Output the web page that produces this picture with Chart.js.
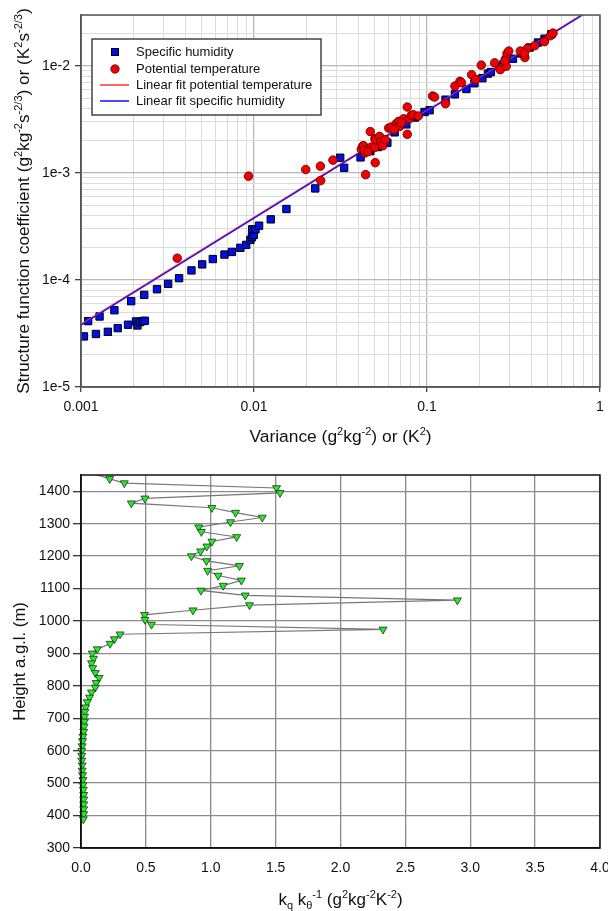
<!DOCTYPE html>
<html>
<head>
<meta charset="utf-8">
<script src="https://cdn.jsdelivr.net/npm/chart.js@4.4.1/dist/chart.umd.min.js"></script>
<style>
html, body { margin: 0; padding: 0; background: #fff; overflow: hidden; }
#topChart { position: absolute; left: 0; top: 0; }
#bottomChart { position: absolute; left: 0; top: 460px; }
</style>
</head>
<body>
<canvas id="topChart" width="608" height="455"></canvas>
<canvas id="bottomChart" width="608" height="451"></canvas>
<script>
// ---- top panel: structure function coefficient vs variance ----
const shVariance = [0.00104, 0.00122, 0.00143, 0.00163, 0.00187, 0.00208, 0.00212, 0.00219, 0.00227, 0.00234,
  0.0011, 0.00128, 0.00156, 0.00195, 0.00232, 0.00275, 0.00319, 0.00369, 0.00435, 0.00502, 0.00578, 0.00675,
  0.00745, 0.00834, 0.00901, 0.00953, 0.00973, 0.00998, 0.00977, 0.0102, 0.0107, 0.0125, 0.0154, 0.0226,
  0.0315, 0.0332, 0.0413, 0.047, 0.052, 0.059, 0.065, 0.0759, 0.085, 0.0968, 0.1035, 0.128, 0.145, 0.169,
  0.188, 0.209, 0.225, 0.234, 0.263, 0.277, 0.314, 0.351, 0.392, 0.438, 0.478, 0.523];
const shCoef = [2.97e-5, 3.13e-5, 3.28e-5, 3.55e-5, 3.82e-5, 4.10e-5, 3.76e-5, 4.04e-5, 4.13e-5, 4.16e-5,
  4.13e-5, 4.56e-5, 5.22e-5, 6.34e-5, 7.26e-5, 8.2e-5, 9.2e-5, 1.04e-4, 1.23e-4, 1.40e-4, 1.57e-4, 1.73e-4,
  1.83e-4, 2.0e-4, 2.13e-4, 2.37e-4, 2.51e-4, 2.64e-4, 2.98e-4, 2.98e-4, 3.22e-4, 3.69e-4, 4.61e-4, 7.18e-4,
  1.39e-3, 1.12e-3, 1.40e-3, 1.6e-3, 1.75e-3, 1.92e-3, 2.4e-3, 2.85e-3, 3.3e-3, 3.72e-3, 3.86e-3, 4.85e-3, 5.44e-3, 6.1e-3,
  6.9e-3, 7.7e-3, 8.5e-3, 8.79e-3, 9.9e-3, 1.04e-2, 1.17e-2, 1.31e-2, 1.49e-2, 1.66e-2, 1.80e-2, 1.98e-2];

const ptVariance = [0.0036, 0.0093, 0.0199, 0.0242, 0.0243, 0.0286, 0.0442, 0.0502, 0.0417, 0.0426, 0.043,
  0.0437, 0.0435, 0.0466, 0.047, 0.0476, 0.0498, 0.05, 0.0505, 0.0532, 0.0542, 0.0556, 0.06, 0.0622, 0.0665,
  0.0686, 0.0695, 0.0733, 0.0769, 0.0769, 0.0794, 0.0811, 0.0834, 0.0891, 0.1077, 0.1106, 0.128, 0.145, 0.155,
  0.181, 0.191, 0.206, 0.246, 0.265, 0.287, 0.285, 0.29, 0.297, 0.346, 0.368, 0.38, 0.365, 0.477, 0.517, 0.535,
  0.0455, 0.0575, 0.0645, 0.071, 0.158, 0.282, 0.42];
const ptCoef = [1.6e-4, 9.35e-4, 1.08e-3, 1.16e-3, 8.5e-4, 1.32e-3, 9.66e-4, 1.25e-3, 1.67e-3, 1.79e-3, 1.80e-3,
  1.54e-3, 1.63e-3, 1.69e-3, 2.44e-3, 1.75e-3, 1.73e-3, 2.09e-3, 2.05e-3, 2.2e-3, 1.95e-3, 1.80e-3, 2.63e-3, 2.69e-3, 2.9e-3,
  3.04e-3, 2.73e-3, 3.22e-3, 4.14e-3, 2.30e-3, 3.22e-3, 3.46e-3, 3.51e-3, 3.41e-3, 5.25e-3, 5.13e-3, 4.45e-3, 6.5e-3, 7.19e-3,
  8.3e-3, 7.51e-3, 1.02e-2, 1.07e-2, 9.25e-3, 9.94e-3, 1.17e-2, 1.31e-2, 1.38e-2, 1.38e-2, 1.20e-2, 1.46e-2, 1.30e-2, 1.69e-2, 1.92e-2, 2.03e-2,
  1.58e-3, 2.05e-3, 2.55e-3, 2.95e-3, 7.0e-3, 1.12e-2, 1.55e-2];

// linear fits (end points)
const fitVariance = [0.001, 1];
const fitPtCoef = [3.85e-5, 0.0385];
const fitShCoef = [3.78e-5, 0.0378];

const varianceTicks = [0.001, 0.01, 0.1, 1];
const varianceTickLabels = ['0.001', '0.01', '0.1', '1'];
const coefTicks = [1e-5, 1e-4, 1e-3, 1e-2];
const coefTickLabels = ['1e-5', '1e-4', '1e-3', '1e-2'];

// ---- bottom panel: ratio profile ----
const ratio = [0.0, 0.221, 0.334, 1.507, 1.534, 0.493, 0.388, 1.009, 1.191, 1.397, 1.152, 0.907, 0.928, 1.20,
  1.009, 0.970, 0.922, 0.851, 0.967, 1.221, 0.976, 1.057, 1.236, 1.096, 0.925, 1.266, 2.901, 1.299, 0.863,
  0.490, 0.493, 0.543, 2.328, 0.301, 0.257, 0.224, 0.125, 0.087, 0.096, 0.081, 0.090, 0.110, 0.140, 0.116,
  0.110, 0.081, 0.066, 0.048, 0.036, 0.030, 0.027, 0.027, 0.024, 0.021, 0.015, 0.012, 0.009, 0.006, 0.006,
  0.006, 0.009, 0.009, 0.012, 0.015, 0.015, 0.018, 0.021, 0.021, 0.021, 0.021, 0.021, 0.018];
const heightM = [1466, 1438, 1425, 1410, 1395, 1378, 1363, 1349, 1334, 1319, 1305, 1289, 1275, 1259,
  1245, 1230, 1215, 1200, 1185, 1170, 1155, 1140, 1125, 1109, 1094, 1079, 1064, 1049, 1033,
  1019, 1004, 989, 974, 959, 944, 930, 913, 900, 884, 870, 855, 840, 825, 809,
  795, 780, 764, 750, 734, 720, 705, 690, 675, 659, 644, 630, 614, 600, 585,
  570, 555, 539, 525, 510, 494, 480, 464, 450, 435, 420, 405, 389];

const ratioTicks = [0, 0.5, 1, 1.5, 2, 2.5, 3, 3.5, 4];
const ratioTickLabels = ['0.0', '0.5', '1.0', '1.5', '2.0', '2.5', '3.0', '3.5', '4.0'];
const heightTicks = [300, 400, 500, 600, 700, 800, 900, 1000, 1100, 1200, 1300, 1400];
const heightTickLabels = ['300', '400', '500', '600', '700', '800', '900', '1000', '1100', '1200', '1300', '1400'];

const FONT = "'Liberation Sans', Arial, sans-serif";

function logGrid(min, max) {
    const out = [];
    for (let e = Math.floor(Math.log10(min)); e <= Math.ceil(Math.log10(max)); e++) {
        for (let m = 1; m <= 9; m++) {
            const v = m * Math.pow(10, e);
            if (v >= min * 0.999 && v <= max * 1.001) out.push(v);
        }
    }
    return out;
}

function isDecade(v) {
    const l = Math.log10(v);
    return Math.abs(l - Math.round(l)) < 1e-6;
}

function labelFor(v, values, labels) {
    for (let i = 0; i < values.length; i++) {
        if (Math.abs(values[i] - v) <= Math.abs(values[i]) * 1e-6 + 1e-9) return labels[i];
    }
    return '';
}

function drawRich(ctx, parts, cx, cy, size, angle) {
    const small = Math.round(size * 0.66);
    ctx.save();
    ctx.translate(cx, cy);
    ctx.rotate(angle);
    ctx.textBaseline = 'alphabetic';
    ctx.textAlign = 'left';
    ctx.fillStyle = '#111';
    let total = 0;
    parts.forEach(p => {
        ctx.font = (p[1] ? small : size) + 'px ' + FONT;
        total += ctx.measureText(p[0]).width;
    });
    let x = -total / 2;
    const base = size * 0.36;
    parts.forEach(p => {
        ctx.font = (p[1] ? small : size) + 'px ' + FONT;
        let dy = 0;
        if (p[1] === 'sup') dy = -size * 0.42;
        if (p[1] === 'sub') dy = size * 0.24;
        ctx.fillText(p[0], x, base + dy);
        x += ctx.measureText(p[0]).width;
    });
    ctx.restore();
}

const topTitlePlugin = {
    id: 'topDeco',
    afterDraw(chart) {
        const ctx = chart.ctx;
        const a = chart.chartArea;
        ctx.save();
        ctx.strokeStyle = '#555';
        ctx.lineWidth = 1.5;
        ctx.strokeRect(a.left, a.top, a.right - a.left, a.bottom - a.top);
        ctx.restore();

        drawRich(ctx, [['Variance (g', ''], ['2', 'sup'], ['kg', ''], ['-2', 'sup'], [') or (K', ''], ['2', 'sup'], [')', '']],
            (a.left + a.right) / 2, 436, 17.4, 0);
        drawRich(ctx, [['Structure function coefficient (g', ''], ['2', 'sup'], ['kg', ''], ['-2', 'sup'], ['s', ''],
            ['-2/3', 'sup'], [') or (K', ''], ['2', 'sup'], ['s', ''], ['-2/3', 'sup'], [')', '']],
            23, (a.top + a.bottom) / 2, 17.2, -Math.PI / 2);

        // legend box
        ctx.save();
        ctx.fillStyle = '#fff';
        ctx.fillRect(92, 39, 229, 76);
        ctx.strokeStyle = '#444';
        ctx.lineWidth = 1.5;
        ctx.strokeRect(92, 39, 229, 76);
        ctx.font = '13px ' + FONT;
        ctx.textBaseline = 'middle';
        ctx.fillStyle = '#111';
        const rows = [52, 69, 85, 101];
        const names = ['Specific humidity', 'Potential temperature', 'Linear fit potential temperature', 'Linear fit specific humidity'];
        names.forEach((n, i) => ctx.fillText(n, 136, rows[i]));
        ctx.fillStyle = '#0010e8';
        ctx.strokeStyle = '#000';
        ctx.lineWidth = 1;
        ctx.fillRect(111.5, rows[0] - 3.5, 7, 7);
        ctx.strokeRect(111.5, rows[0] - 3.5, 7, 7);
        ctx.beginPath();
        ctx.arc(115, rows[1], 4.2, 0, Math.PI * 2);
        ctx.fillStyle = '#f00000';
        ctx.fill();
        ctx.strokeStyle = '#600';
        ctx.lineWidth = 0.8;
        ctx.stroke();
        ctx.lineWidth = 1.5;
        ctx.strokeStyle = '#ff3030';
        ctx.beginPath(); ctx.moveTo(100, rows[2]); ctx.lineTo(129, rows[2]); ctx.stroke();
        ctx.strokeStyle = '#1010ff';
        ctx.beginPath(); ctx.moveTo(100, rows[3]); ctx.lineTo(129, rows[3]); ctx.stroke();
        ctx.restore();
    }
};

const bottomTitlePlugin = {
    id: 'bottomDeco',
    afterDraw(chart) {
        const ctx = chart.ctx;
        const a = chart.chartArea;
        ctx.save();
        ctx.strokeStyle = '#111';
        ctx.lineWidth = 1.5;
        ctx.strokeRect(a.left, a.top, a.right - a.left, a.bottom - a.top);
        ctx.restore();
        drawRich(ctx, [['k', ''], ['q', 'sub'], [' k', ''], ['\u03b8', 'sub'], ['-1', 'sup'], [' (g', ''], ['2', 'sup'],
            ['kg', ''], ['-2', 'sup'], ['K', ''], ['-2', 'sup'], [')', '']],
            (a.left + a.right) / 2, 439, 17, 0);
        drawRich(ctx, [['Height a.g.l. (m)', '']], 19, (a.top + a.bottom) / 2, 16.7, -Math.PI / 2);
    }
};

const xLogGrid = logGrid(0.001, 1);
const yLogGrid = logGrid(1e-5, 0.03);

new Chart(document.getElementById('topChart'), {
    type: 'scatter',
    data: {
        datasets: [
            {
                label: 'Potential temperature',
                data: ptVariance.map((v, i) => ({ x: v, y: ptCoef[i] })),
                pointStyle: 'circle',
                pointRadius: 4.3,
                backgroundColor: '#f00000',
                borderColor: '#5a0000',
                borderWidth: 0.8
            },
            {
                label: 'Linear fit specific humidity',
                data: fitVariance.map((v, i) => ({ x: v, y: fitShCoef[i] })),
                showLine: true,
                pointRadius: 0,
                borderColor: '#1010ff',
                borderWidth: 1.3,
                clip: 0
            },
            {
                label: 'Linear fit potential temperature',
                data: fitVariance.map((v, i) => ({ x: v, y: fitPtCoef[i] })),
                showLine: true,
                pointRadius: 0,
                borderColor: '#ff3030',
                borderWidth: 1.3,
                clip: 0
            },
            {
                label: 'Specific humidity',
                data: shVariance.map((v, i) => ({ x: v, y: shCoef[i] })),
                pointStyle: 'rect',
                pointRadius: 5.2,
                backgroundColor: '#0010e8',
                borderColor: '#000',
                borderWidth: 1
            }
        ]
    },
    options: {
        responsive: false,
        animation: false,
        layout: { padding: { left: 0, right: 8, top: 15, bottom: 0 } },
        plugins: { legend: { display: false }, tooltip: { enabled: false } },
        scales: {
            x: {
                type: 'logarithmic',
                min: 0.001,
                max: 1,
                afterBuildTicks: s => { s.ticks = xLogGrid.map(v => ({ value: v })); },
                afterFit: s => { s.height = 68; s.paddingLeft = 0; s.paddingRight = 0; },
                ticks: {
                    autoSkip: false,
                    maxRotation: 0,
                    padding: 7,
                    color: '#111',
                    font: { family: FONT, size: 14 },
                    callback: v => labelFor(v, varianceTicks, varianceTickLabels)
                },
                grid: {
                    color: c => isDecade(c.tick.value) ? '#b8b8b8' : '#dcdcdc',
                    lineWidth: c => isDecade(c.tick.value) ? 1.3 : 1,
                    tickColor: c => isDecade(c.tick.value) ? '#444' : 'rgba(0,0,0,0)',
                    tickLength: 5
                },
                border: { color: '#555', width: 1.5 }
            },
            y: {
                type: 'logarithmic',
                min: 1e-5,
                max: 0.03,
                afterBuildTicks: s => { s.ticks = yLogGrid.map(v => ({ value: v })); },
                afterFit: s => { s.width = 81; s.paddingTop = 0; s.paddingBottom = 0; },
                ticks: {
                    autoSkip: false,
                    padding: 5,
                    color: '#111',
                    font: { family: FONT, size: 14 },
                    callback: v => labelFor(v, coefTicks, coefTickLabels)
                },
                grid: {
                    color: c => isDecade(c.tick.value) ? '#b8b8b8' : '#dcdcdc',
                    lineWidth: c => isDecade(c.tick.value) ? 1.3 : 1,
                    tickColor: c => isDecade(c.tick.value) ? '#444' : 'rgba(0,0,0,0)',
                    tickLength: 6
                },
                border: { color: '#555', width: 1.5 }
            }
        }
    },
    plugins: [topTitlePlugin]
});

new Chart(document.getElementById('bottomChart'), {
    type: 'scatter',
    data: {
        datasets: [{
            label: 'ratio',
            data: ratio.map((r, i) => ({ x: r, y: heightM[i] })),
            showLine: true,
            borderColor: '#777',
            borderWidth: 1.2,
            pointStyle: 'triangle',
            pointRotation: 180,
            pointRadius: 4.6,
            pointBackgroundColor: '#1ff01f',
            pointBorderColor: '#2a2a2a',
            pointBorderWidth: 0.8,
            clip: { left: 10, right: 10, top: 0, bottom: 10 }
        }]
    },
    options: {
        responsive: false,
        animation: false,
        layout: { padding: { left: 0, right: 8, top: 15, bottom: 0 } },
        plugins: { legend: { display: false }, tooltip: { enabled: false } },
        scales: {
            x: {
                type: 'linear',
                min: 0,
                max: 4,
                afterBuildTicks: s => { s.ticks = ratioTicks.map(v => ({ value: v })); },
                afterFit: s => { s.height = 63; s.paddingLeft = 0; s.paddingRight = 0; },
                ticks: {
                    autoSkip: false,
                    maxRotation: 0,
                    padding: 12,
                    color: '#111',
                    font: { family: FONT, size: 14 },
                    callback: v => labelFor(v, ratioTicks, ratioTickLabels)
                },
                grid: { color: '#8a8a8a', lineWidth: 1.3, drawTicks: false },
                border: { color: '#111', width: 1.5 }
            },
            y: {
                type: 'linear',
                min: 300,
                max: 1450,
                afterBuildTicks: s => { s.ticks = heightTicks.map(v => ({ value: v })); },
                afterFit: s => { s.width = 81; s.paddingTop = 0; s.paddingBottom = 0; },
                ticks: {
                    autoSkip: false,
                    padding: 3,
                    color: '#111',
                    font: { family: FONT, size: 14 },
                    callback: v => labelFor(v, heightTicks, heightTickLabels)
                },
                grid: { color: '#8a8a8a', lineWidth: 1.3, tickColor: '#333', tickLength: 8 },
                border: { color: '#111', width: 1.5 }
            }
        }
    },
    plugins: [bottomTitlePlugin]
});
</script>
</body>
</html>
